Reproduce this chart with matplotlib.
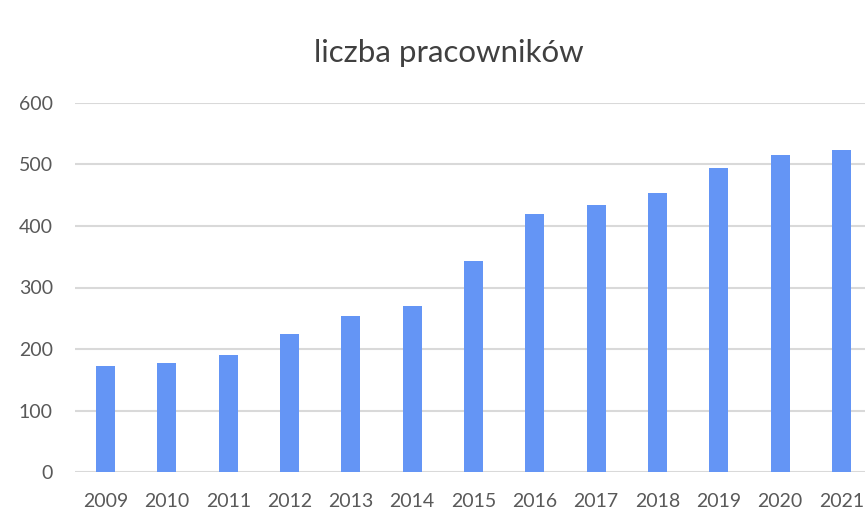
import matplotlib
matplotlib.use("Agg")
import matplotlib.pyplot as plt

years = ["2009", "2010", "2011", "2012", "2013", "2014", "2015",
         "2016", "2017", "2018", "2019", "2020", "2021"]
employees = [173, 177, 191, 225, 254, 270, 343, 420, 434, 453, 494, 515, 524]
yticks = [0, 100, 200, 300, 400, 500, 600]
title = "liczba pracowników"

plt.rcParams['font.family'] = ['Lato', 'DejaVu Sans']

fig = plt.figure(figsize=(8.65, 5.18), dpi=100)
# axes extends a little past the right edge (reference is cropped)
ax = fig.add_axes([75 / 865, 1 - 472 / 518, 797 / 865, 369 / 518])

x = range(len(years))
ax.bar(x, employees, width=0.31, color='#6495F5', zorder=3)

ax.set_xlim(-0.5, len(years) - 0.5)
ax.set_ylim(0, 600)
ax.set_yticks(yticks)
ax.set_xticks(list(x))
ax.set_xticklabels(years)

ax.grid(axis='y', color='#D9D9D9', linewidth=1.5, zorder=0)
for s in ax.spines.values():
    s.set_visible(False)
ax.tick_params(axis='both', length=0, labelsize=14, colors='#595959')
ax.tick_params(axis='y', pad=16)
ax.tick_params(axis='x', pad=15)

fig.text(449 / 865, 1 - 53 / 518, title, ha='center', va='center',
         fontsize=22.5, color='#404040')

fig.savefig("out.png", dpi=100, facecolor='white')
